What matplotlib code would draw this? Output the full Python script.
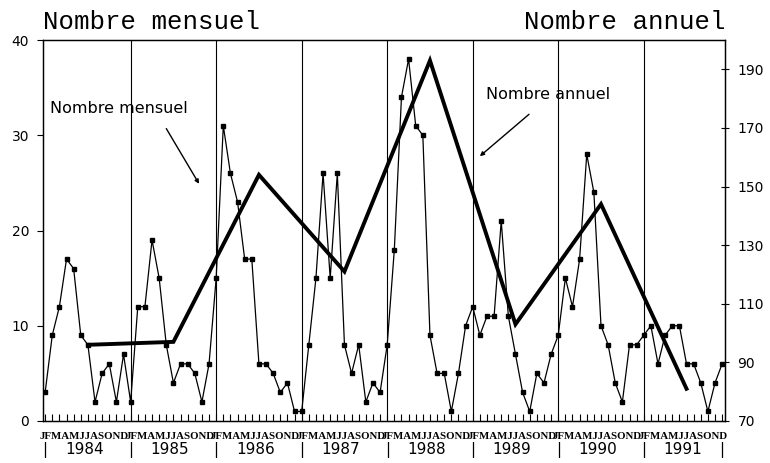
import matplotlib
matplotlib.use("Agg")
import matplotlib.pyplot as plt
import matplotlib.transforms as mtransforms
import numpy as np

years = [1984, 1985, 1986, 1987, 1988, 1989, 1990, 1991]
month_letters = "JFMAMJJASOND"

# monthly counts, one list per year
m1984 = [3, 9, 12, 17, 16, 9, 8, 2, 5, 6, 2, 7]
m1985 = [2, 12, 12, 19, 15, 8, 4, 6, 6, 5, 2, 6]
m1986 = [15, 31, 26, 23, 17, 17, 6, 6, 5, 3, 4, 1]
m1987 = [1, 8, 15, 26, 15, 26, 8, 5, 8, 2, 4, 3]
m1988 = [8, 18, 34, 38, 31, 30, 9, 5, 5, 1, 5, 10]
m1989 = [12, 9, 11, 11, 21, 11, 7, 3, 1, 5, 4, 7]
m1990 = [9, 15, 12, 17, 28, 24, 10, 8, 4, 2, 8, 8]
m1991 = [9, 10, 6, 9, 10, 10, 6, 6, 4, 1, 4, 6]

# annual totals (right axis)
annual = [96, 97, 154, 121, 193, 103, 144, 81]

monthly = m1984 + m1985 + m1986 + m1987 + m1988 + m1989 + m1990 + m1991
xm = np.arange(len(monthly))
xa = np.arange(len(years)) * 12 + 6

fig = plt.figure(figsize=(7.7, 4.63), dpi=100)
ax = fig.add_axes([43/770, 1-421/463, (725-43)/770, (421-40)/463])
ax2 = ax.twinx()

ax.plot(xm, monthly, color="black", lw=0.9, marker="s", ms=3, mfc="black", mec="black")
ax2.plot(xa, annual, color="black", lw=2.8, solid_joinstyle="miter")

ax.set_xlim(-0.3, 95.4)
ax.set_ylim(0, 40)
ax2.set_ylim(70, 200)

for k in range(1, 8):
    ax.axvline(12 * k, color="black", lw=0.8)

ax.set_yticks([0, 10, 20, 30, 40])
ax2.set_yticks([70, 90, 110, 130, 150, 170, 190])
ax.tick_params(axis="y", direction="out", length=4, labelsize=10, pad=6)
ax2.tick_params(axis="y", direction="inout", length=6, labelsize=10, pad=6)

ax.set_xticks(xm)
ax.set_xticklabels([])
ax.tick_params(axis="x", direction="in", length=5, width=0.8)
ax2.tick_params(axis="x", length=0)

for sp in ["left", "right", "top", "bottom"]:
    ax.spines[sp].set_linewidth(0.9)
    ax2.spines[sp].set_linewidth(0.9)

# month letters and year labels under the axis
trans = mtransforms.blended_transform_factory(ax.transData, ax.transAxes)
for i, yr in enumerate(years):
    ax.text(12 * i + 5.5, -0.04, month_letters, transform=trans, ha="center", va="center",
            fontsize=7.8, family="Liberation Serif", fontweight="bold")
    ax.text(12 * i + 5.5, -0.075, str(yr), transform=trans, ha="center", va="center",
            fontsize=11, family="DejaVu Sans")
for k in range(9):
    ax.text(min(12 * k, 95), -0.075, "|", transform=trans, ha="center", va="center",
            fontsize=11, family="DejaVu Sans")

# headings
fig.text(43/770, 1-22/463, "Nombre mensuel", ha="left", va="center",
         fontsize=18.5, family="Liberation Mono")
fig.text(725/770, 1-22/463, "Nombre annuel", ha="right", va="center",
         fontsize=18.5, family="Liberation Mono")

# in-plot labels with arrows
ax.text(0.7, 32.85, "Nombre mensuel", ha="left", va="center", fontsize=11.5,
        family="DejaVu Sans")
ax.annotate("", xy=(21.6, 24.9), xytext=(17.0, 30.7),
            arrowprops=dict(arrowstyle="-|>", color="black", lw=1.0,
                            mutation_scale=6, shrinkA=0, shrinkB=0))
ax.text(61.9, 34.3, "Nombre annuel", ha="left", va="center", fontsize=11.5,
        family="DejaVu Sans")
ax.annotate("", xy=(61.0, 27.8), xytext=(67.9, 32.2),
            arrowprops=dict(arrowstyle="-|>", color="black", lw=1.0,
                            mutation_scale=6, shrinkA=0, shrinkB=0))

fig.savefig("out.png", dpi=100)
